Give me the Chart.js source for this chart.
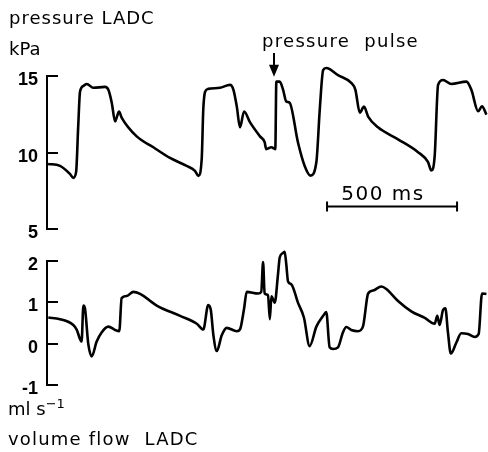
<!DOCTYPE html>
<html>
<head>
<meta charset="utf-8">
<script src="https://cdn.jsdelivr.net/npm/chart.js@4/dist/chart.umd.min.js"></script>
<style>
  html, body { margin: 0; padding: 0; background: #fff; }
  #wrap { position: relative; width: 488px; height: 452px; overflow: hidden; background: #fff; }
  canvas { position: absolute; left: 0; }
  .t { position: absolute; font-family: "DejaVu Sans", sans-serif; font-size: 18px; line-height: 18px;
       color: #000; white-space: pre; letter-spacing: 1px; }
</style>
</head>
<body>
<div id="wrap">
  <canvas id="top" width="488" height="260" style="top:0px"></canvas>
  <canvas id="bot" width="488" height="222" style="top:230px"></canvas>
  <div class="t" style="left:9px;top:9px;">pressure LADC</div>
  <div class="t" style="left:9px;top:40px;letter-spacing:0px;">kPa</div>
  <div class="t" style="left:262px;top:32px;letter-spacing:1.3px;">pressure  pulse</div>
  <div class="t" style="left:323px;top:183px;width:120px;text-align:center;font-size:20px;line-height:20px;letter-spacing:1.5px;">500 ms</div>
  <div class="t" style="left:8px;top:400px;letter-spacing:0px;">ml s<span style="font-size:13px;position:relative;top:-7px;">−1</span></div>
  <div class="t" style="left:8px;top:430px;letter-spacing:1.2px;">volume flow  LADC</div>
</div>
<script>
// ---- data (time in ms) ----
const pressureTimeMs = [4,50,88,101,112,120,127,140,153,178,223,236,249,262,268,277,287,345,409,473,537,569,582,595,601,608,620,665,704,717,730,742,758,781,819,837,843,863,878,882,895,908,920,933,965,991,1013,1036,1049,1062,1074,1119,1170,1186,1203,1219,1235,1273,1350,1427,1465,1478,1491,1504,1523,1555,1613,1632,1658,1673,1690];
const pressureKPa    = [9.26,9.13,8.61,8.35,8.74,11.71,13.97,14.35,14.48,14.23,14.29,14.1,13.26,12.03,12.29,12.68,12.29,11.06,10.35,9.65,9.13,8.81,8.48,9.58,12.81,13.97,14.16,14.23,14.42,14.1,13.0,11.65,12.68,11.97,11.06,10.68,10.23,10.35,10.23,14.63,14.63,14.1,13.34,13.26,10.68,9.13,8.5,9.39,12.81,15.39,15.52,15.06,14.55,14.1,12.61,13.0,12.35,11.65,10.87,10.03,9.39,8.83,9.79,14.42,14.74,14.48,14.63,14.1,12.7,13.02,12.48];

const flowTimeMs = [5,50,101,114,133,140,146,159,172,191,210,236,262,278,287,307,332,358,422,512,576,601,620,630,640,653,672,691,730,742,758,768,812,824,831,837,850,857,863,876,888,895,908,914,920,927,940,965,988,1010,1036,1062,1074,1087,1100,1119,1138,1151,1170,1196,1215,1235,1254,1286,1305,1350,1401,1453,1491,1501,1510,1523,1532,1542,1553,1574,1593,1619,1645,1660,1673,1690];
const flowMlPerS = [0.63,0.59,0.45,0.34,0.05,0.92,0.85,-0.02,-0.31,0.05,0.27,0.41,0.33,0.30,1.10,1.15,1.25,1.2,0.92,0.67,0.48,0.34,0.93,0.81,0.2,-0.18,0.2,0.38,0.30,0.34,0.85,1.25,1.21,1.25,1.97,1.21,1.17,0.59,1.14,0.99,1.65,2.08,2.19,2.22,1.93,1.5,1.43,0.99,0.63,-0.06,0.41,0.67,0.76,-0.09,-0.13,-0.09,0.27,0.4,0.33,0.30,0.41,1.21,1.28,1.38,1.32,1.03,0.78,0.62,0.48,0.67,0.45,0.81,0.85,0.27,-0.24,0.02,0.25,0.23,0.16,0.23,1.21,1.2];

const pressureTicks = [5, 10, 15];
const flowTicks = [-1, 0, 1, 2];

// ---- annotations (in data units) ----
const scaleBarStartMs = 1077, scaleBarLengthMs = 500, scaleBarLevelKPa = 6.48;
const pulseArrowMs = 873, pulseArrowTipKPa = 14.95, pulseArrowTailKPa = 16.5;
const timeMaxMs = 1696;

const tickFont = { family: "'Liberation Sans', Arial, sans-serif", size: 18, weight: 'bold' };

function yAxis(min, max, step) {
  return {
    type: 'linear', position: 'left', min, max,
    afterFit: s => { s.width = 47; },
    border: { display: true, color: '#000', width: 2 },
    grid: { display: true, drawOnChartArea: false, drawTicks: true, tickLength: -11, color: '#000', lineWidth: 2 },
    ticks: { stepSize: step, color: '#000', font: tickFont, padding: 20, labelOffset: 4 }
  };
}

function makeChart(id, times, vals, yScale, pad, extraPlugins) {
  return new Chart(document.getElementById(id), {
    type: 'line',
    data: {
      datasets: [{
        data: times.map((t, i) => ({ x: t, y: vals[i] })),
        borderColor: '#000', borderWidth: 2.6, pointRadius: 0,
        cubicInterpolationMode: 'monotone', clip: false, fill: false
      }]
    },
    options: {
      responsive: false, animation: false, devicePixelRatio: 1,
      layout: { padding: pad },
      plugins: { legend: { display: false }, tooltip: { enabled: false }, title: { display: false } },
      scales: {
        x: { type: 'linear', min: 0, max: timeMaxMs, display: false },
        y: yScale
      }
    },
    plugins: extraPlugins || []
  });
}

const annotate = {
  id: 'annotate',
  afterDatasetsDraw(chart) {
    const { ctx, scales: { x, y } } = chart;
    ctx.save();
    ctx.strokeStyle = '#000'; ctx.fillStyle = '#000'; ctx.lineWidth = 2;
    // scale bar
    const x0 = x.getPixelForValue(scaleBarStartMs), x1 = x.getPixelForValue(scaleBarStartMs + scaleBarLengthMs);
    const yb = y.getPixelForValue(scaleBarLevelKPa);
    ctx.beginPath();
    ctx.moveTo(x0, yb); ctx.lineTo(x1, yb);
    ctx.moveTo(x0, yb - 5); ctx.lineTo(x0, yb + 5);
    ctx.moveTo(x1, yb - 5); ctx.lineTo(x1, yb + 5);
    ctx.stroke();
    // arrow
    const xa = x.getPixelForValue(pulseArrowMs);
    const yt = y.getPixelForValue(pulseArrowTipKPa), yl = y.getPixelForValue(pulseArrowTailKPa);
    ctx.beginPath(); ctx.moveTo(xa, yl); ctx.lineTo(xa, yt - 8); ctx.stroke();
    ctx.beginPath(); ctx.moveTo(xa - 5, yt - 12); ctx.lineTo(xa + 5, yt - 12); ctx.lineTo(xa, yt); ctx.closePath(); ctx.fill();
    ctx.restore();
  }
};

makeChart('top', pressureTimeMs, pressureKPa, yAxis(5, 15, 5), { top: 76, bottom: 29, left: 0, right: 0 }, [annotate]);
makeChart('bot', flowTimeMs, flowMlPerS, yAxis(-1, 2, 1), { top: 17, bottom: 67, left: 0, right: 0 });
</script>
</body>
</html>
